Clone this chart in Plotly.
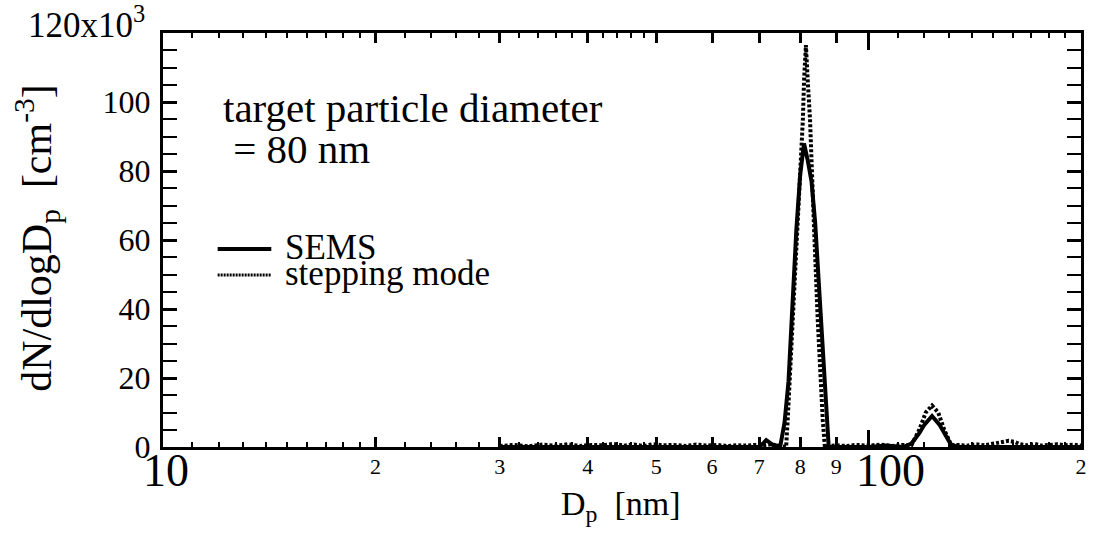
import math
import plotly.graph_objects as go

# ---------------- data (dN/dlogDp in units of 10^3 cm^-3) ----------------
sems_dp = [30, 40, 50, 60, 70, 71, 71.6, 72.5, 73.5, 75, 76, 77, 78, 79, 80, 81,
           82, 83, 84, 85, 86, 87, 87.8, 90, 100, 106, 112, 115, 118, 120, 123,
           126, 128, 131, 135, 150, 200]
sems_n = [0, 0, 0, 0, 0, 1.2, 2, 1.2, 0.3, 0.5, 7, 19, 42, 63, 79, 88,
          83, 77, 65, 48, 28, 10, 0, 0, 0, 0.4, 0, 1, 4, 6.5, 9,
          6.5, 4, 0.5, 0, 0, 0]

step_dp = [30, 31.5, 33, 34.5, 36, 37.5, 39, 40.5, 42, 43.5, 45, 46.5, 48, 49.5,
           51, 53, 55, 57, 59, 61, 63, 65, 67, 69, 71, 73, 74.5, 75.5, 76.4,
           76.8, 78.1, 79.4, 80.7, 81.0, 81.5, 82.0, 82.6, 83.6, 84.7, 86.1, 86.7,
           88, 90, 93, 96, 100, 104, 108, 112, 115, 118, 120.5, 123, 125.5, 128,
           131, 134, 138, 142, 146, 150, 155, 158, 161, 164, 168, 172, 176, 180,
           185, 190, 195, 200]
step_n = [0.3, 0.6, 0.2, 0.7, 0.4, 0.8, 0.3, 0.6, 0.5, 0.9, 0.4, 0.7, 0.3, 0.8,
          0.5, 0.6, 0.3, 0.7, 0.4, 0.6, 0.3, 0.5, 0.4, 0.6, 0.5, 0.8, 0.3, 0.2, 0,
          8, 37, 66, 95, 106, 116.5, 106, 95, 66, 37, 8, 0,
          0.3, 0.5, 0.3, 0.6, 0.4, 0.7, 0.3, 0.6, 0.5, 5, 10, 12, 10, 5,
          0.5, 0.6, 0.4, 0.8, 0.5, 0.9, 1.4, 1.8, 1.5, 0.8, 0.5, 0.9, 0.4, 0.6,
          0.8, 0.5, 0.7, 0.4]

x_major = [20, 30, 40, 50, 60, 70, 80, 90, 200]
x_major_text = ["2", "3", "4", "5", "6", "7", "8", "9", "2"]
x_decades = [10, 100]
x_decade_text = ["10", "100"]
x_minor = [11, 12, 13, 14, 15, 16, 17, 18, 19, 22, 24, 26, 28, 32, 34, 36, 38,
           42, 44, 46, 48, 110, 120, 130, 140, 150, 160, 170, 180, 190]
y_major = [0, 20, 40, 60, 80, 100]
y_major_text = ["0", "20", "40", "60", "80", "100"]
y_minor = [5, 10, 15, 25, 30, 35, 45, 50, 55, 65, 70, 75, 85, 90, 95, 105, 110, 115]

K = 1000.0
FONT = "Liberation Serif"

fig = go.Figure()
fig.add_trace(go.Scatter(x=sems_dp, y=[v * K for v in sems_n], mode="lines",
                         name="SEMS", line=dict(color="black", width=4),
                         showlegend=False))
fig.add_trace(go.Scatter(x=step_dp, y=[v * K for v in step_n], mode="lines",
                         name="stepping mode",
                         line=dict(color="black", width=4, dash="3px,2px"),
                         showlegend=False))
# empty trace so the decade-tick overlay axis is drawn
fig.add_trace(go.Scatter(x=[10, 200], y=[None, None], xaxis="x2", yaxis="y",
                         mode="lines", showlegend=False, hoverinfo="skip"))

fig.update_layout(
    width=1098, height=535,
    margin=dict(l=163, r=11, t=33, b=88),
    paper_bgcolor="white", plot_bgcolor="white",
    font=dict(family=FONT, color="black", size=30),
    showlegend=False,
    xaxis=dict(
        type="log", range=[1, math.log10(200)],
        showline=True, linewidth=3, linecolor="black", mirror="allticks",
        ticks="inside", ticklen=10, tickwidth=3, tickcolor="black",
        tickvals=x_major, ticktext=x_major_text,
        tickfont=dict(size=22, family=FONT),
        ticklabelstandoff=-2,
        showgrid=False, zeroline=False,
        minor=dict(tickvals=x_minor, ticks="inside", ticklen=5,
                   tickwidth=2, tickcolor="black", showgrid=False),
    ),
    xaxis2=dict(
        type="log", range=[1, math.log10(200)], overlaying="x", anchor="y",
        side="bottom", showline=False, mirror="allticks",
        ticks="inside", ticklen=17, tickwidth=3, tickcolor="black",
        tickvals=x_decades, showticklabels=False, showgrid=False,
        zeroline=False,
    ),
    yaxis=dict(
        range=[0, 120 * K],
        showline=True, linewidth=3, linecolor="black", mirror="allticks",
        ticks="inside", ticklen=14, tickwidth=3, tickcolor="black",
        tickvals=[v * K for v in y_major] + [120 * K],
        ticktext=y_major_text + [""],
        tickfont=dict(size=32, family=FONT),
        ticklabelstandoff=3,
        showgrid=False, zeroline=False,
        minor=dict(tickvals=[v * K for v in y_minor], ticks="inside",
                   ticklen=7, tickwidth=2, tickcolor="black", showgrid=False),
    ),
)

def px_x(p):
    return (p - 163) / 924.0

def px_y(p):
    return (447 - p) / 414.0

anns = []
# decade labels (larger, set slightly right of their ticks)
for v, t, dx in zip(x_decades, x_decade_text, [3, 22]):
    anns.append(dict(x=math.log10(v), xref="x", y=0, yref="paper", text=t,
                     showarrow=False, xanchor="center", yanchor="top",
                     xshift=dx, yshift=4, font=dict(size=46, family=FONT)))
# y-axis top label
anns.append(dict(x=px_x(147), y=px_y(22), xref="paper", yref="paper",
                 text="120x10<sup>3</sup>", showarrow=False, xanchor="right",
                 yanchor="middle", font=dict(size=35, family=FONT)))
# axis titles
anns.append(dict(x=px_x(624), y=px_y(506), xref="paper", yref="paper",
                 text="D<sub>p</sub>  [nm]", showarrow=False, xanchor="center",
                 yanchor="middle", font=dict(size=34, family=FONT)))
anns.append(dict(x=px_x(36), y=px_y(238), xref="paper", yref="paper",
                 text="dN/dlogD<sub>p</sub>  [cm<sup>-3</sup>]", showarrow=False,
                 textangle=-90, xanchor="center", yanchor="middle",
                 font=dict(size=42, family=FONT)))
# in-plot note
anns.append(dict(x=px_x(221), y=px_y(108), xref="paper", yref="paper",
                 text="target particle diameter", showarrow=False,
                 xanchor="left", yanchor="middle",
                 font=dict(size=41, family=FONT)))
anns.append(dict(x=px_x(221), y=px_y(149), xref="paper", yref="paper",
                 text=" = 80 nm", showarrow=False,
                 xanchor="left", yanchor="middle",
                 font=dict(size=41, family=FONT)))
# legend texts
anns.append(dict(x=px_x(284), y=px_y(247), xref="paper", yref="paper",
                 text="SEMS", showarrow=False, xanchor="left", yanchor="middle",
                 font=dict(size=35, family=FONT)))
anns.append(dict(x=px_x(284), y=px_y(273), xref="paper", yref="paper",
                 text="stepping mode", showarrow=False, xanchor="left",
                 yanchor="middle", font=dict(size=35, family=FONT)))
fig.update_layout(annotations=anns)

# legend keys
fig.add_shape(type="line", xref="paper", yref="paper",
              x0=px_x(218), x1=px_x(272), y0=px_y(249), y1=px_y(249),
              line=dict(color="black", width=4))
fig.add_shape(type="line", xref="paper", yref="paper",
              x0=px_x(218), x1=px_x(272), y0=px_y(275), y1=px_y(275),
              line=dict(color="black", width=3, dash="2px,1px"))

fig.write_html("out.html")
